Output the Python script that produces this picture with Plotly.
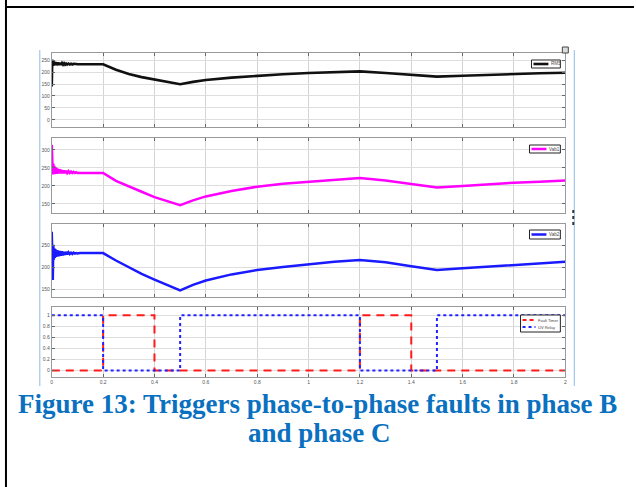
import plotly.graph_objects as go
from plotly.subplots import make_subplots

W, H = 636, 487

# start-up transient (s) and values of the three voltage traces
T_START = [0.000, 0.002, 0.004, 0.006, 0.008, 0.010, 0.012, 0.014, 0.016, 0.018,
           0.020, 0.024, 0.028, 0.032, 0.036, 0.040, 0.044, 0.048, 0.052, 0.056,
           0.060, 0.065, 0.070, 0.075, 0.080, 0.085, 0.090, 0.095, 0.100, 0.110, 0.120]
RMS_START = [140, 252, 226, 246, 227, 244, 228, 242, 229, 241, 229, 240, 230, 239, 230, 238,
             231, 237, 231, 236, 232, 236, 232, 235, 232, 235, 233, 234, 233, 233, 233]
V1_START = [314, 290, 232, 262, 233, 256, 233, 252, 234, 250, 234, 248, 235, 246, 235, 244,
            235, 243, 235, 242, 236, 241, 236, 240, 236, 239, 236, 238, 236, 236, 236]
V2_START = [282, 176, 171, 252, 218, 244, 222, 242, 224, 240, 225, 239, 226, 238, 227, 237,
            228, 236, 229, 236, 230, 235, 231, 234, 231, 234, 232, 233, 232, 233, 233]

# fault / recovery part of the run
T_MAIN = [0.2, 0.25, 0.3, 0.35, 0.4, 0.45, 0.5, 0.55, 0.6, 0.7, 0.8, 0.9, 1.0, 1.1,
          1.2, 1.3, 1.4, 1.5, 1.6, 1.7, 1.8, 1.9, 2.0]
RMS_MAIN = [233, 210, 192, 179, 168, 158, 149, 159, 167, 177, 185, 191, 196, 200,
            203, 196, 188, 181, 185, 189, 192, 195, 197]
V1_MAIN = [236, 214, 198, 184, 169, 157, 147, 160, 171, 186, 198, 206, 212, 218,
           222, 215, 205, 196, 200, 205, 209, 212, 215]
V2_MAIN = [233, 216, 200, 185, 172, 159, 147, 160, 170, 184, 194, 201, 207, 213,
           217, 212, 203, 194, 198, 202, 206, 210, 213]

# trigger signals (step changes)
T_FAULT = [0, 0.2, 0.4, 1.2, 1.4, 2.0]
FAULT = [0, 1, 0, 1, 0, 0]
T_RELAY = [0, 0.2, 0.5, 1.2, 1.5, 2.0]
RELAY = [1, 0, 1, 0, 1, 1]

X_TICKS = [0, 0.2, 0.4, 0.6, 0.8, 1, 1.2, 1.4, 1.6, 1.8, 2]
X_LABELS = ["0", "0.2", "0.4", "0.6", "0.8", "1", "1.2", "1.4", "1.6", "1.8", "2"]

NAMES = ["RMS", "Vab1", "Vab2", "Fault Timer", "UV Relay"]
CAPTION = ["Figure 13: Triggers phase-to-phase faults in phase B", "and phase C"]

C_RMS, C_V1, C_V2 = "#111111", "#ff00ff", "#1a1aff"
C_FAULT, C_RELAY = "#ff1a1a", "#2222ff"
FAULT_DASH = "8px,6px"


def fx(px):
    return px / W


def fy(py):
    return 1 - py / H


fig = make_subplots(rows=4, cols=1)

t_v = T_START + T_MAIN
fig.add_trace(go.Scatter(x=t_v, y=RMS_START + RMS_MAIN, mode="lines", name=NAMES[0],
                         line=dict(color=C_RMS, width=2.6)), row=1, col=1)
fig.add_trace(go.Scatter(x=t_v, y=V1_START + V1_MAIN, mode="lines", name=NAMES[1],
                         line=dict(color=C_V1, width=2.5)), row=2, col=1)
fig.add_trace(go.Scatter(x=t_v, y=V2_START + V2_MAIN, mode="lines", name=NAMES[2],
                         line=dict(color=C_V2, width=2.5)), row=3, col=1)
fig.add_trace(go.Scatter(x=T_FAULT, y=FAULT, mode="lines", name=NAMES[3], line_shape="hv",
                         line=dict(color=C_FAULT, width=2, dash=FAULT_DASH)), row=4, col=1)
fig.add_trace(go.Scatter(x=T_RELAY, y=RELAY, mode="lines", name=NAMES[4], line_shape="hv",
                         line=dict(color=C_RELAY, width=2, dash="dot")), row=4, col=1)

# panel placement in pixels: (top, bottom, y-range, y-ticks)
panels = [
    (53, 127, [-30, 280], [0, 50, 100, 150, 200, 250]),
    (138, 213, [125, 333], [150, 200, 250, 300]),
    (224, 297, [132, 300], [150, 200, 250]),
    (307, 377, [-0.12, 1.15], [0, 0.2, 0.4, 0.6, 0.8, 1]),
]
tick_font = dict(family="Liberation Sans, Arial", size=5, color="#555555")
for i, (top, bot, yr, yt) in enumerate(panels, start=1):
    fig.update_yaxes(row=i, col=1, domain=[fy(bot), fy(top)], range=yr, tickvals=yt,
                     ticktext=[("%g" % v) for v in yt], tickfont=tick_font,
                     showgrid=True, gridcolor="#dedede", gridwidth=1, zeroline=False,
                     showline=True, linecolor="#9a9a9a", linewidth=1, mirror="ticks",
                     ticks="inside", ticklen=3, tickcolor="#666666")
    fig.update_xaxes(row=i, col=1, domain=[fx(51), fx(567)], range=[0, 2],
                     tickvals=X_TICKS, ticktext=X_LABELS, tickfont=tick_font,
                     showticklabels=(i == 4), showgrid=True, gridcolor="#d4d4d4",
                     gridwidth=1, zeroline=False, showline=True, linecolor="#9a9a9a",
                     linewidth=1, mirror="ticks", ticks="inside", ticklen=3,
                     tickcolor="#666666")


def paper_line(x0, y0, x1, y1, color, width, dash="solid"):
    return dict(type="line", xref="paper", yref="paper", x0=fx(x0), x1=fx(x1),
                y0=fy(y0), y1=fy(y1), line=dict(color=color, width=width, dash=dash))


def paper_box(x0, y0, x1, y1, line_color, fill):
    return dict(type="rect", xref="paper", yref="paper", x0=fx(x0), x1=fx(x1),
                y0=fy(y1), y1=fy(y0), line=dict(color=line_color, width=1), fillcolor=fill)


legend_font = dict(family="Liberation Sans, Arial", size=4.5, color="#444444")
legend_font_small = dict(family="Liberation Sans, Arial", size=4, color="#444444")

# compact scope-style legend boxes: (box, key length, [(key y, colour, width, dash, label)])
legend_boxes = [
    ((533, 60, 562, 68), 15, [(64, C_RMS, 2.6, "solid", NAMES[0])]),
    ((531, 145, 562, 153), 15, [(149, C_V1, 2.5, "solid", NAMES[1])]),
    ((531, 230, 562, 239), 15, [(234.5, C_V2, 2.5, "solid", NAMES[2])]),
    ((522, 315, 562, 332), 13, [(320, C_FAULT, 2, "4px,3px", NAMES[3]),
                                (327, C_RELAY, 2, "dot", NAMES[4])]),
]

shapes = [
    # page borders
    paper_line(5, 0, 5, H, "black", 2),
    paper_line(5, 7, W, 7, "black", 2),
    # scope window edges
    paper_line(39, 50, 39, 386, "#8fbbe6", 1),
    paper_line(576, 50, 576, 386, "#8fbbe6", 1),
    # window icon and resize grip
    paper_box(564, 47, 570, 53, "#444444", "#dddddd"),
    paper_line(575, 210, 575, 227, "#333333", 2, "dot"),
]
annotations = []
for (bx0, by0, bx1, by1), key_len, keys in legend_boxes:
    shapes.append(paper_box(bx0, by0, bx1, by1, "#222222", "white"))
    font = legend_font if len(keys) == 1 else legend_font_small
    for ky, col, wd, ds, label in keys:
        shapes.append(paper_line(bx0 + 2, ky, bx0 + 2 + key_len, ky, col, wd, ds))
        annotations.append(dict(text=label, xref="paper", yref="paper",
                                x=fx(bx0 + 3 + key_len), y=fy(ky), showarrow=False,
                                xanchor="left", yanchor="middle", font=font))

cap_font = dict(family="Liberation Serif, Times New Roman", size=27, color="#0a70c0",
                weight="bold")
annotations += [
    dict(text=CAPTION[0], xref="paper", yref="paper", x=fx(318), y=fy(404), showarrow=False,
         xanchor="center", yanchor="middle", font=cap_font),
    dict(text=CAPTION[1], xref="paper", yref="paper", x=fx(320), y=fy(433), showarrow=False,
         xanchor="center", yanchor="middle", font=cap_font),
]

fig.update_layout(width=W, height=H, margin=dict(l=0, r=0, t=0, b=0),
                  paper_bgcolor="white", plot_bgcolor="white",
                  shapes=shapes, annotations=annotations, showlegend=False)

fig.write_html("out.html")
